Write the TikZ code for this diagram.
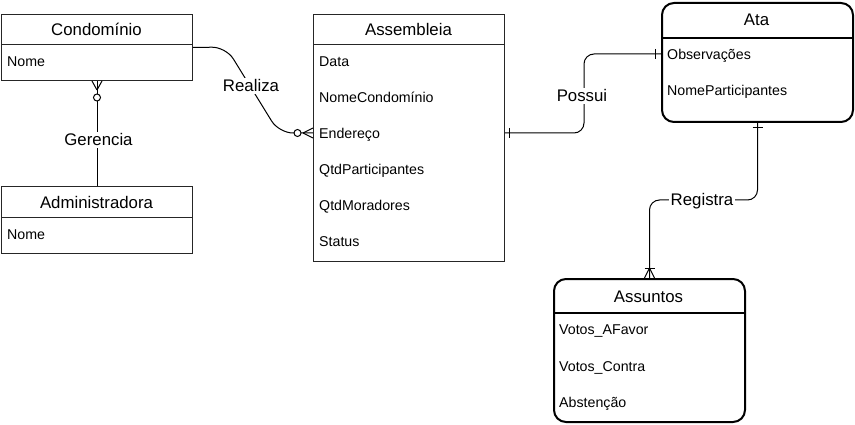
\documentclass[tikz,border=0pt]{standalone}
\usepackage{fontspec}
\setmainfont{Liberation Sans}
\usetikzlibrary{calc}
\begin{document}
\begin{tikzpicture}[x=1pt,y=-1pt,
 tbl/.style={draw=black!85, line width=1pt, anchor=north west, inner sep=0, minimum width=191pt},
 rtbl/.style={draw=black, line width=2pt, rounded corners=12pt, anchor=north west, inner sep=0, minimum width=191pt},
 ttl/.style={font=\fontsize{16.8}{20}\selectfont, inner sep=0, text height=12pt, text depth=0pt},
 itm/.style={font=\fontsize{14.2}{17}\selectfont, inner sep=0, anchor=west, text height=10.2pt, text depth=0pt},
 lbl/.style={font=\fontsize{16.8}{20}\selectfont, fill=white, inner sep=1.5pt, text height=12pt, text depth=1pt},
 conn/.style={draw=black, line width=1pt},
 divA/.style={draw=black!85, line width=1pt},
 divB/.style={draw=black, line width=2pt},
]
\useasboundingbox (0,0) rectangle (855,425);

% Condominio
\node[tbl, minimum height=66pt] (condo) at (1,14) {};
\draw[divA] ($(condo.north west)+(0,31)$) -- ($(condo.north east)+(0,31)$);
\node[ttl] (condoT) at (96.5,30) {Condomínio};
\node[itm] (condoNome) at (7,61) {Nome};

% Administradora
\node[tbl, minimum height=67pt] (adm) at (1,186) {};
\draw[divA] ($(adm.north west)+(0,32)$) -- ($(adm.north east)+(0,32)$);
\node[ttl] (admT) at (96.5,203) {Administradora};
\node[itm] (admNome) at (7,234) {Nome};

% Assembleia
\node[tbl, minimum height=247pt] (asm) at (313,14) {};
\draw[divA] ($(asm.north west)+(0,31)$) -- ($(asm.north east)+(0,31)$);
\node[ttl] (asmT) at (408.5,30) {Assembleia};
\node[itm] (data) at (319,61) {Data};
\node[itm] (nomecondo) at (319,97) {NomeCondomínio};
\node[itm] (endereco) at (319,133) {Endereço};
\node[itm] (qtdp) at (319,169) {QtdParticipantes};
\node[itm] (qtdm) at (319,205) {QtdMoradores};
\node[itm] (status) at (319,241) {Status};

% Ata
\node[rtbl, minimum height=119pt] (ata) at (661,2) {};
\draw[divB] ($(ata.north west)+(0,36)$) -- ($(ata.north east)+(0,36)$);
\node[ttl] (ataT) at (756.5,20) {Ata};
\node[itm] (obs) at (667,54) {Observações};
\node[itm] (nomep) at (667,90) {NomeParticipantes};

% Assuntos
\node[rtbl, minimum height=143pt] (ass) at (553,278) {};
\draw[divB] ($(ass.north west)+(0,35)$) -- ($(ass.north east)+(0,35)$);
\node[ttl] (assT) at (648.5,296) {Assuntos};
\node[itm] (vaf) at (559,329) {Votos\_AFavor};
\node[itm] (vc) at (559,366) {Votos\_Contra};
\node[itm] (abs) at (559,402) {Abstenção};

% Realiza
\coordinate (r1) at (226,47);
\coordinate (r2) at (279,133);
\coordinate (rEnd) at (asm.west |- endereco.west);
\draw[conn, rounded corners=14pt] (condo.east) -- (r1) -- (r2) -- (rEnd);
\draw[conn] ($(rEnd)+(-10,0)$) -- ($(rEnd)+(0,-5)$);
\draw[conn] ($(rEnd)+(-10,0)$) -- ($(rEnd)+(0,5)$);
\draw[conn, fill=white] ($(rEnd)+(-15.5,0)$) circle (3.5);
\node[lbl] (realiza) at (251,86) {Realiza};

% Gerencia
\draw[conn] (condo.south) -- (adm.north);
\draw[conn] ($(condo.south)+(0,9)$) -- ($(condo.south)+(-5,0)$);
\draw[conn] ($(condo.south)+(0,9)$) -- ($(condo.south)+(5,0)$);
\draw[conn, fill=white] ($(condo.south)+(0,16.5)$) circle (3.5);
\node[lbl] (gerencia) at (98.5,140) {Gerencia};

% Possui
\coordinate (pStart) at (asm.east |- endereco.west);
\coordinate (pMid) at (584,96);
\coordinate (pEnd) at (ata.west |- obs.west);
\draw[conn, rounded corners=10pt] (pStart) -| (pMid) |- (pEnd);
\draw[conn] ($(pStart)+(4.5,-5)$) -- ($(pStart)+(4.5,5)$);
\draw[conn] ($(pEnd)+(-6,-5)$) -- ($(pEnd)+(-6,5)$);
\node[lbl] (possui) at (582,96) {Possui};

% Registra
\coordinate (gMid) at (702,200);
\draw[conn, rounded corners=10pt] (ata.south) |- (gMid) -| (ass.north);
\draw[conn] ($(ata.south)+(-5,5)$) -- ($(ata.south)+(5,5)$);
\draw[conn] ($(ass.north)+(-5,-10)$) -- ($(ass.north)+(5,-10)$);
\draw[conn] ($(ass.north)+(0,-10)$) -- ($(ass.north)+(-5,0)$);
\draw[conn] ($(ass.north)+(0,-10)$) -- ($(ass.north)+(5,0)$);
\node[lbl] (registra) at (702,200) {Registra};
\end{tikzpicture}
\end{document}
